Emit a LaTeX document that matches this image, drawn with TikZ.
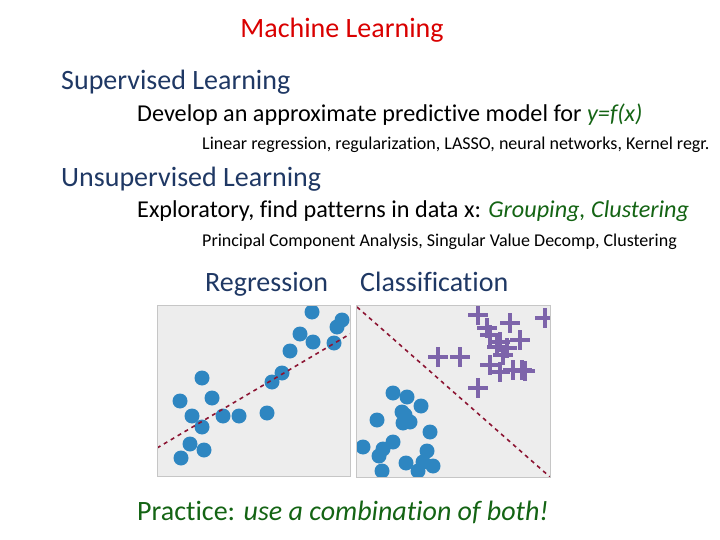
\documentclass[tikz,border=0pt]{standalone}
\usepackage{fontspec}
\setmainfont{Carlito}[Ligatures=NoCommon]
\begin{document}
\begin{tikzpicture}[x=1pt,y=-1pt,
  txt/.style={anchor=base west,inner sep=0pt},
  head/.style={txt,text=hblue,font=\fontsize{28}{32}\selectfont},
  sub/.style={txt,text=black,font=\fontsize{24.2}{28}\selectfont},
  small/.style={txt,text=black,font=\fontsize{18}{21}\selectfont},
  panel/.style={draw=gray!45,fill=gray!14,line width=1pt},
  dot/.style={circle,fill=dotblue,inner sep=0pt,minimum size=15pt},
  sep/.style={draw=sepred,dashed,line width=1.6pt,dash pattern=on 4pt off 4pt},
  pl/.style={draw=plviolet,line width=3.3pt}]
\definecolor{hblue}{RGB}{31,56,100}
\definecolor{dotblue}{RGB}{46,134,193}
\definecolor{sepred}{RGB}{140,20,50}
\definecolor{plviolet}{RGB}{125,100,170}
\definecolor{dgreen}{RGB}{20,100,20}
\useasboundingbox (0,0) rectangle (720,540);
\node[txt,anchor=base,text=red!85!black,font=\fontsize{28}{32}\selectfont] (t) at (342,38) {Machine Learning};
\node[head] (s) at (61,90) {Supervised Learning};
\node[sub] (s1) at (137,122) {Develop an approximate predictive model for \textcolor{dgreen}{\itshape y=f(x)}};
\node[small] (s2) at (202,150) {Linear regression, regularization, LASSO, neural networks, Kernel regr.};
\node[head] (u) at (61,187) {Unsupervised Learning};
\node[sub] (u1) at (137,218) {Exploratory, find patterns in data x: \textcolor{dgreen}{\itshape Grouping, Clustering}};
\node[small,font=\fontsize{18}{21}\selectfont] (u2) at (202,247) {Principal Component Analysis, Singular Value Decomp, Clustering};
\node[head] (r) at (205,291) {Regression};
\node[head] (c) at (360,291) {Classification};
\node[txt,text=dgreen,font=\fontsize{28}{32}\selectfont] (p) at (137,520) {Practice: \itshape use a combination of both!};
% panels
\begin{scope}
\clip (157,305) rectangle (350,476);
\draw[panel] (157,305) rectangle (350,476);
\foreach \x/\y in {312/312,342/320,337/327,300/334,313/342,334/343,290/351,282/373,272/382,202/378,180/401,212/398,192/416,223/416,239/416,267/413,202/427,190/444,204/450,181/458}
  \node[dot] at (\x,\y) {};
\draw[sep] (157,448) -- (350,334);
\end{scope}
\draw[draw=gray!45,line width=1pt] (157,305) rectangle (350,476);
\begin{scope}
\clip (356,305) rectangle (550,477);
\draw[panel] (356,305) rectangle (550,477);
\foreach \x/\y in {393/393,407/397,421/406,402/412,405/415,410/422,403/423,377/420,430/432,393/442,383/449,379/456,363/447,427/451,423/462,433/466,406/463,382/471,418/471}
  \node[dot] at (\x,\y) {};
\foreach \x/\y in {478/315,510/323,545/318,487/328,490/335,500/342,520/340,497/347,507/348,503/355,438/357,460/357,490/365,500/372,513/370,522/370,525/371,478/388}
  \draw[pl] (\x-10,\y) -- (\x+10,\y) (\x,\y-10) -- (\x,\y+10);
\draw[sep] (357,307) -- (550,477);
\end{scope}
\draw[draw=gray!45,line width=1pt] (356,305) rectangle (550,477);
\end{tikzpicture}
\end{document}
